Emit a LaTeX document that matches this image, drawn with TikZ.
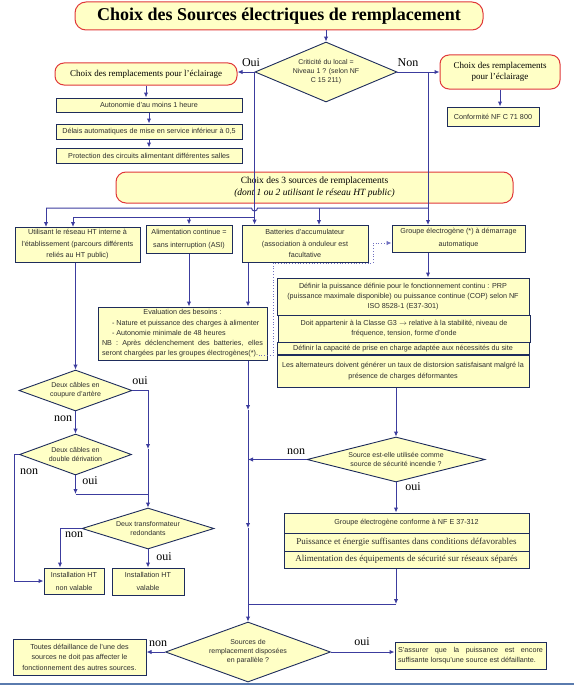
\documentclass[tikz,border=0pt]{standalone}
\usepackage{fontspec}
\setmainfont{Liberation Serif}
\setsansfont{Liberation Sans}
\usepackage{xcolor}
\usetikzlibrary{shapes.geometric,arrows.meta}
\definecolor{fond}{HTML}{FFFFC6}
\definecolor{rouge}{HTML}{E0383A}
\definecolor{marine}{HTML}{1E2C5C}
\definecolor{bleu}{HTML}{3C3C9E}
\definecolor{encre}{HTML}{2E2E2E}
\definecolor{pointil}{HTML}{7070C0}
\definecolor{cadre}{HTML}{5A7BAE}
\tikzset{
  rbox/.style={draw=rouge, fill=fond, line width=1pt, rounded corners=9pt, align=center, inner sep=1pt, font=\fontsize{9}{11}\selectfont},
  box/.style={draw=marine, fill=fond, line width=1pt, inner sep=1pt, align=center, text=encre, font=\sffamily\fontsize{7.2}{10}\selectfont},
  dec/.style={diamond, draw=marine, fill=fond, line width=0.9pt, inner sep=0pt, align=center, text=encre, font=\sffamily\fontsize{7}{9}\selectfont},
  arr/.style={draw=bleu, line width=1pt, -{Latex[length=5pt,width=4.5pt]}},
  lnk/.style={draw=bleu, line width=1pt},
  lbl/.style={inner sep=0pt, font=\fontsize{12}{12}\selectfont}
}

\begin{document}
\begin{tikzpicture}[x=1pt, y=-1pt]
    \useasboundingbox (0,0) rectangle (574,685);

    % --- TOP ---
    \node[rbox, minimum width=408, minimum height=28, rounded corners=11pt, font=\bfseries\fontsize{18}{20}\selectfont] (titre) at (279,16) {Choix des Sources électriques de remplacement};
    \node[dec, minimum width=142, minimum height=60, aspect=2.37] (crit) at (326,72) {Criticité du local =\\Niveau 1 ? (selon NF\\C 15 211)};
    \node[lbl] (oui0) at (251,63) {Oui};
    \node[lbl] (non0) at (408,63) {Non};

    % (oui) eclairage
    \node[rbox, minimum width=182, minimum height=22] (eclg) at (146,74) {Choix des remplacements pour l’éclairage};
    \node[box, minimum width=186, minimum height=14] (auto) at (149,105) {Autonomie d'au moins 1 heure};
    \node[box, minimum width=186, minimum height=15] (delai) at (149,131.5) {Délais automatiques de mise en service inférieur à 0,5};
    \node[box, minimum width=186, minimum height=15] (prot) at (149,155.5) {Protection des circuits alimentant différentes salles};

    % (non) eclairage
    \node[rbox, minimum width=120, minimum height=34] (eclr) at (500,72) {Choix des remplacements\\pour l’éclairage};
    \node[box, minimum width=92, minimum height=19] (conf) at (493,116.5) {Conformité NF C 71 800};

    % --- SOURCES ---
    \node[rbox, minimum width=397, minimum height=31, rounded corners=10pt, font=\fontsize{9.5}{12}\selectfont] (src) at (314.5,187.5) {Choix des 3 sources de remplacements\\\textit{(dont 1 ou 2 utilisant le réseau HT public)}};

    \node[box, minimum width=125, minimum height=35, font=\sffamily\fontsize{7.2}{11.5}\selectfont] (ht) at (77.5,244.5) {Utilisant le réseau HT interne à\\l'établissement (parcours différents\\reliés au HT public)};
    \node[box, minimum width=86, minimum height=28, font=\sffamily\fontsize{7.2}{13}\selectfont] (asi) at (189,239) {Alimentation continue =\\sans interruption (ASI)};
    \node[box, minimum width=126, minimum height=37, font=\sffamily\fontsize{7.2}{11.5}\selectfont] (batt) at (305,243.5) {Batteries d'accumulateur\\(association à onduleur est\\facultative};
    \node[box, minimum width=133, minimum height=27, font=\sffamily\fontsize{7.2}{13}\selectfont] (ge) at (458.5,238.5) {Groupe électrogène (*) à démarrage\\automatique};

    \node[box, minimum width=169, minimum height=53, align=left, font=\sffamily\fontsize{7.2}{10.3}\selectfont] (eval) at (182.5,333.5) {\makebox[161pt]{Evaluation des besoins :}\\
      \hspace*{10pt}- Nature et puissance des charges à alimenter\\
      \hspace*{10pt}- Autonomie minimale de 48 heures\\
      \makebox[161pt][s]{NB : Après déclenchement des batteries, elles}\\
      seront chargées par les groupes électrogènes(*).};

    % --- GROUPE ELECTROGENE ---
    \node[box, minimum width=252, minimum height=37] (prp) at (403,296.5) {Définir la puissance définie pour le  fonctionnement continu : PRP\\(puissance maximale disponible) ou puissance continue (COP) selon NF\\ISO 8528-1 (E37-301)};
    \node[box, minimum width=252, minimum height=27] (cg3) at (404,328.5) {Doit appartenir à  la Classe G3 $\rightarrow$ relative à la stabilité, niveau de\\fréquence, tension, forme d'onde};
    \node[box, minimum width=252, minimum height=12] (cap) at (403,348.5) {Définir la capacité de prise en charge adaptée aux nécessités du site};
    \node[box, minimum width=252, minimum height=32, font=\sffamily\fontsize{7.2}{11}\selectfont] (alt) at (403,371) {Les alternateurs doivent générer un taux de distorsion satisfaisant malgré la\\présence de charges déformantes};

    \node[dec, minimum width=178, minimum height=45, aspect=3.96] (srce) at (396,459.5) {Source est-elle utilisée comme\\source de sécurité incendie ?};
    \node[lbl] (non4) at (296,452) {non};
    \node[lbl] (oui4) at (413,487) {oui};

    \node[box, minimum width=245, minimum height=20] (nfe) at (406.5,523) {Groupe électrogène conforme à NF E 37-312};
    \node[box, minimum width=245, minimum height=18, font=\fontsize{9}{11}\selectfont] (pui) at (406.5,542) {Puissance et énergie suffisantes dans conditions défavorables};
    \node[box, minimum width=245, minimum height=17, font=\fontsize{9}{11}\selectfont] (ali) at (406.5,559.5) {Alimentation des équipements de sécurité sur réseaux séparés};

    % --- RESEAU HT ---
    \node[dec, minimum width=113, minimum height=41, aspect=2.76] (c1) at (75.5,390.5) {Deux câbles en\\coupure d'artère};
    \node[lbl] (oui1) at (140,381) {oui};
    \node[lbl] (non1) at (63,419) {non};
    \node[dec, minimum width=112, minimum height=41, aspect=2.73] (c2) at (75.5,454.5) {Deux câbles en\\double dérivation};
    \node[lbl] (non2) at (29,472) {non};
    \node[lbl] (oui2) at (90,481) {oui};
    \node[dec, minimum width=132, minimum height=41, aspect=3.22] (tr) at (148,528.5) {Deux transformateur\\redondants};
    \node[lbl] (non3) at (74,535) {non};
    \node[lbl] (oui3) at (164,557) {oui};
    \node[box, minimum width=60, minimum height=26, font=\sffamily\fontsize{7.2}{13}\selectfont] (nv) at (74,581) {Installation HT\\non valable};
    \node[box, minimum width=72, minimum height=27, font=\sffamily\fontsize{7.2}{13}\selectfont] (val) at (148,581.5) {Installation HT\\valable};

    % --- PARALLELE ---
    \node[dec, minimum width=165, minimum height=60, aspect=2.75] (fin) at (248,652) {Sources de\\remplacement disposées\\en parallèle ?};
    \node[lbl] (non5) at (158,644) {non};
    \node[lbl] (oui5) at (362,642) {oui};
    \node[box, minimum width=133, minimum height=36, font=\sffamily\fontsize{7.2}{10.5}\selectfont] (tous) at (79.5,657) {Toutes défaillance de l'une des\\sources ne doit pas affecter le\\fonctionnement des autres sources.};
    \node[box, minimum width=151, minimum height=27, align=left] (assu) at (470.5,655.5) {\makebox[145pt][s]{S'assurer que la puissance est encore}\\suffisante lorsqu'une source est défaillante.};

    % --- coordinates ---
    \coordinate (r1) at (0,208);
    \coordinate (r2) at (0,217);
    \coordinate (r3) at (0,604);
    \coordinate (hta) at (46,227);
    \coordinate (htb) at (73,227);
    \coordinate (bta) at (319,225);
    \coordinate (gea) at (428,225);
    \coordinate (bus) at (248,0);
    \coordinate (m1) at (248,410);
    \coordinate (m2) at (248,528);
    \coordinate (q1) at (148,449);
    \coordinate (q2) at (148,494);
    \coordinate (q3) at (14,0);
    \coordinate (q4) at (60,0);
    \coordinate (p1) at (273,263);
    \coordinate (p2) at (373,243);
    \coordinate (hop) at (crit.west |- r1);

    % --- connectors ---
    \draw[arr] (titre.south -| crit.north) -- (crit.north);
    \draw[arr] (crit.west) -- (crit.west -| eclg.east);
    \draw[arr] (crit.east) -- (crit.east -| eclr.west);
    \draw[arr] (eclg.south) -- (eclg.south |- auto.north);
    \draw[arr] (auto.south) -- (delai.north);
    \draw[arr] (delai.south) -- (prot.north);
    \draw[arr] (eclr.south) -- (eclr.south |- conf.north);

    % oui
    \draw[arr] (crit.west) -- (crit.west |- batt.north);
    \draw[arr] (crit.west |- r2) -| (htb);
    \draw[arr] (asi.north |- r2) -- (asi.north);
    % non
    \draw[arr] (crit.east -| gea) -- (gea);
    \draw[lnk] (hta |- r1) -- ([xshift=-3pt]hop) arc[start angle=180, end angle=360, radius=3pt] -- (gea |- r1);
    \draw[arr] (hta |- r1) -- (hta);
    \draw[arr] (bta |- r1) -- (bta);

    \draw[arr] (asi.south) -- (asi.south |- eval.north);
    \draw[arr] (batt.south -| bus) -- (bus |- eval.north);
    \draw[arr, draw=pointil, line width=0.8pt, dotted] ([xshift=-9pt, yshift=5pt]eval.south east) -| (p1) -| (p2) -- (p2 -| ge.west);

    \draw[arr] (gea |- ge.south) -- (gea |- prp.north);
    \draw[arr] (alt.south -| srce.north) -- (srce.north);
    \draw[arr] (srce.south) -- (srce.south |- nfe.north);
    \draw[arr] (srce.west) -- (srce.west -| bus);
    \draw[arr] (ali.south -| srce.south) -- (srce.south |- r3);
    \draw[lnk] (srce.south |- r3) -- (bus |- r3);

    \draw[arr] (eval.south -| bus) -- (m1);
    \draw[arr] (m1) -- (m2);
    \draw[arr] (m2) -- (fin.north);

    \draw[arr] (ht.south -| c1.north) -- (c1.north);
    \draw[arr] (c1.east) -| (q1);
    \draw[lnk] (q1) -- (q2);
    \draw[arr] (q2) -- (tr.north);
    \draw[arr] (c1.south) -- (c2.north);
    \draw[arr] (c2.south) -- (c2.south |- q2);
    \draw[lnk] (c2.south |- q2) -- (q2);
    \draw[arr] (c2.west) -| (q3 |- nv.west) -- (nv.west);
    \draw[arr] (tr.west) -| (q4 |- nv.north);
    \draw[arr] (tr.south) -- (tr.south |- val.north);

    \draw[arr] (fin.west) -- (fin.west -| tous.east);
    \draw[arr] (fin.east) -- (fin.east -| assu.west);

    \draw[cadre, line width=2pt] (0,684) -- (574,684);
\end{tikzpicture}
\end{document}
